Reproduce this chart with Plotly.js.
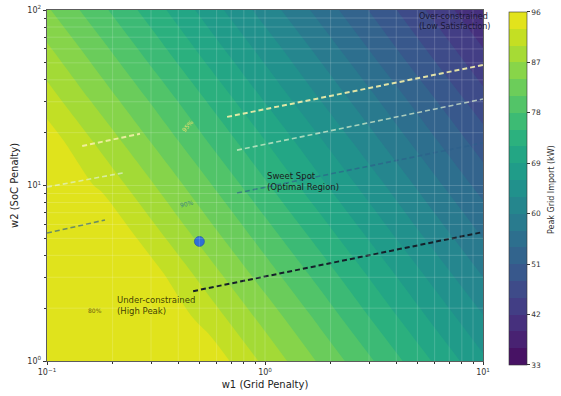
<!DOCTYPE html>
<html><head><meta charset="utf-8">
<script src="https://cdn.plot.ly/plotly-3.0.1.min.js"></script>
<style>html,body{margin:0;padding:0;background:#fff;} #chart{width:561px;height:396px;}</style>
</head><body><div id="chart"></div>
<script>
// grid of penalty weights (log spaced)
const w1Grid = [0.1, 0.178, 0.316, 0.562, 1, 1.78, 3.16, 5.62, 10];
const w2Grid = [1, 1.78, 3.16, 5.62, 10, 17.8, 31.6, 56.2, 100];
// peak grid import (kW): rows follow w2Grid, columns follow w1Grid
const peakImport = [
  [96,   96,   96,   95.0, 89.3, 83.6, 78.0, 72.3, 66.6],
  [96,   96,   96,   91.5, 85.9, 80.2, 74.5, 68.8, 63.2],
  [96,   96,   93.8, 88.1, 82.4, 76.8, 71.1, 65.4, 59.7],
  [96,   96,   90.3, 84.6, 79.0, 73.3, 67.6, 61.9, 56.3],
  [96,   92.5, 86.9, 81.2, 75.5, 69.8, 64.2, 58.5, 52.8],
  [94.8, 89.1, 83.4, 77.7, 72.1, 66.4, 60.7, 55.0, 49.4],
  [91.3, 85.6, 80.0, 74.3, 68.6, 62.9, 57.3, 51.6, 45.9],
  [87.9, 82.2, 76.5, 70.8, 65.2, 59.5, 53.8, 48.1, 42.5],
  [84.4, 78.7, 73.1, 67.4, 61.7, 56.0, 50.4, 44.7, 39.0]
];
const levelMin = 33, levelMax = 96, levelStep = 3;
const colorTicks = [33, 42, 51, 60, 69, 78, 87, 96];

// satisfaction contour lines (visible segments, null = gap)
const sat80W1 = [0.468, 10];
const sat80W2 = [2.5, 5.43];
const sat90W1 = [0.1, 0.1845, null, 0.744, 10];
const sat90W2 = [5.36, 6.36, null, 9.06, 17.5];
const sat93W1 = [0.1, 0.223, null, 0.744, 10];
const sat93W2 = [9.8, 11.8, null, 15.9, 31.1];
const sat95W1 = [0.145, 0.267, null, 0.670, 10];
const sat95W2 = [16.8, 19.7, null, 24.6, 48.6];

// chosen operating point
const optW1 = [0.5];
const optW2 = [4.8];

// contour labels
const labelText = ['80%', '90%', '95%'];
const labelW1 = [0.166, 0.439, 0.44];
const labelW2 = [1.93, 7.85, 22.1];

const xTickVals = [0.1, 1, 10];
const xTickText = ['10<sup>−1</sup>', '10<sup>0</sup>', '10<sup>1</sup>'];
const yTickVals = [1, 10, 100];
const yTickText = ['10<sup>0</sup>', '10<sup>1</sup>', '10<sup>2</sup>'];

const FONT = 'DejaVu Sans, sans-serif';
const dash = '5px,3px';

// viridis stops (same as Plotly's built-in 'Viridis')
const VIR = ['#440154','#48186a','#472d7b','#424086','#3b528b','#33638d','#2c728e','#26828e','#21918c',
             '#1fa088','#28ae80','#3fbc73','#5ec962','#84d44b','#addc30','#d8e219','#fde725'];
function hex2rgb(h){return [parseInt(h.substr(1,2),16),parseInt(h.substr(3,2),16),parseInt(h.substr(5,2),16)];}
function viridisAt(t){
  t = Math.max(0, Math.min(1, t));
  const p = t * (VIR.length - 1), i = Math.min(Math.floor(p), VIR.length - 2), f = p - i;
  const a = hex2rgb(VIR[i]), b = hex2rgb(VIR[i + 1]);
  return 'rgb(' + a.map((v, k) => Math.round(v + (b[k] - v) * f)).join(',') + ')';
}
// stepped scale for the colorbar, matching the contour band colours
const nBands = Math.round((levelMax - levelMin) / levelStep);
const steppedScale = [];
for (let i = 0; i < nBands; i++) {
  const c = viridisAt((i + 1) / (nBands + 1));
  steppedScale.push([i / nBands, c], [(i + 1) / nBands, c]);
}

const traces = [
  {
    type: 'contour', x: w1Grid, y: w2Grid, z: peakImport,
    colorscale: 'Viridis', showscale: false,
    autocontour: false,
    contours: {start: levelMin, end: levelMax, size: levelStep, coloring: 'fill', showlines: false},
    line: {width: 0},
    hoverinfo: 'skip'
  },
  {type: 'scatter', mode: 'lines', x: sat80W1, y: sat80W2, connectgaps: false,
   line: {color: '#15202a', width: 2, dash: dash}, hoverinfo: 'skip', showlegend: false},
  {type: 'scatter', mode: 'lines', x: sat90W1, y: sat90W2, connectgaps: false, opacity: 0.65,
   line: {color: '#2c5f8a', width: 1.6, dash: dash}, hoverinfo: 'skip', showlegend: false},
  {type: 'scatter', mode: 'lines', x: sat93W1, y: sat93W2, connectgaps: false, opacity: 0.7,
   line: {color: '#dff2d0', width: 1.6, dash: dash}, hoverinfo: 'skip', showlegend: false},
  {type: 'scatter', mode: 'lines', x: sat95W1, y: sat95W2, connectgaps: false, opacity: 0.9,
   line: {color: '#f4f0a8', width: 2, dash: dash}, hoverinfo: 'skip', showlegend: false},
  {type: 'scatter', mode: 'markers', x: optW1, y: optW2,
   marker: {size: 10, color: '#2f6fd6', line: {color: '#1f4fa0', width: 0.6}},
   hoverinfo: 'skip', showlegend: false},
  // colour bar carrier (no drawn points)
  {type: 'scatter', mode: 'markers', x: [null], y: [null], hoverinfo: 'skip', showlegend: false,
   marker: {color: [levelMin], cmin: levelMin, cmax: levelMax, colorscale: steppedScale, showscale: true,
     colorbar: {
       x: 1.0596, xanchor: 'left', xpad: 0,
       y: 0.4915, yanchor: 'middle', len: 1.006, ypad: 0,
       thickness: 18, outlinewidth: 0.6, outlinecolor: '#333',
       tickmode: 'array', tickvals: colorTicks,
       ticks: 'outside', ticklen: 3, tickcolor: '#333',
       tickfont: {family: FONT, size: 7.5, color: '#333'}
     }}}
];

// faint log grid (major + minor) drawn over the filled contours
const shapes = [];
for (let d = -1; d <= 0; d++) {
  for (let k = 1; k <= 9; k++) {
    const v = k * Math.pow(10, d);
    const f = (Math.log10(v) + 1) / 2;
    if (f > 0.001) shapes.push({type: 'line', xref: 'paper', yref: 'paper', x0: f, x1: f, y0: 0, y1: 1,
      layer: 'above', line: {color: 'rgba(255,255,255,0.22)', width: 0.8}});
  }
}
for (let d = 0; d <= 1; d++) {
  for (let k = 1; k <= 9; k++) {
    const v = k * Math.pow(10, d);
    const f = Math.log10(v) / 2;
    if (f > 0.001) shapes.push({type: 'line', xref: 'paper', yref: 'paper', x0: 0, x1: 1, y0: f, y1: f,
      layer: 'above', line: {color: 'rgba(255,255,255,0.22)', width: 0.8}});
  }
}

const minorVals = [];
for (let d = -1; d <= 1; d++) for (let k = 2; k <= 9; k++) minorVals.push(k * Math.pow(10, d));

const annotations = [
  {xref: 'x', yref: 'y', x: Math.log10(1.0), y: Math.log10(10.6), xanchor: 'left', yanchor: 'middle', align: 'left',
   text: 'Sweet Spot<br>(Optimal Region)', showarrow: false, font: {family: FONT, size: 8.5, color: '#1a1a1a'}},
  {xref: 'x', yref: 'y', x: Math.log10(0.205), y: Math.log10(2.08), xanchor: 'left', yanchor: 'middle', align: 'left',
   text: 'Under-constrained<br>(High Peak)', showarrow: false, font: {family: FONT, size: 8.5, color: 'rgba(35,28,0,0.85)'}},
  {xref: 'x', yref: 'y', x: Math.log10(5.0), y: Math.log10(85.5), xanchor: 'left', yanchor: 'middle', align: 'left',
   text: 'Over-constrained<br>(Low Satisfaction)', showarrow: false, font: {family: FONT, size: 8, color: '#1a1835'}},
  {xref: 'x', yref: 'y', x: Math.log10(labelW1[0]), y: Math.log10(labelW2[0]), showarrow: false,
   text: labelText[0], font: {family: FONT, size: 6, color: '#6e5e10'}},
  {xref: 'x', yref: 'y', x: Math.log10(labelW1[1]), y: Math.log10(labelW2[1]), showarrow: false, textangle: -12,
   text: labelText[1], font: {family: FONT, size: 6, color: '#3f8a7a'}},
  {xref: 'x', yref: 'y', x: Math.log10(labelW1[2]), y: Math.log10(labelW2[2]), showarrow: false, textangle: -50,
   text: labelText[2], font: {family: FONT, size: 6, color: '#e8e070'}},
  {xref: 'paper', yref: 'paper', x: 1.156, y: 0.487, xanchor: 'center', yanchor: 'middle', textangle: -90,
   text: 'Peak Grid Import (kW)', showarrow: false, font: {family: FONT, size: 8, color: '#333'}}
];

const axisCommon = {
  type: 'log', showgrid: false, zeroline: false,
  showline: true, mirror: true, linecolor: '#333', linewidth: 0.8,
  ticks: 'outside', ticklen: 3.5, tickcolor: '#333', tickmode: 'array',
  tickfont: {family: FONT, size: 8, color: '#333'},
  minor: {tickmode: 'array', tickvals: minorVals, ticks: 'outside', ticklen: 2, tickcolor: '#333', showgrid: false}
};

const layout = {
  width: 561, height: 396,
  margin: {l: 47, r: 78, t: 10, b: 35},
  paper_bgcolor: '#fff', plot_bgcolor: '#fff',
  showlegend: false,
  xaxis: Object.assign({}, axisCommon, {
    range: [-1, 1], tickvals: xTickVals, ticktext: xTickText,
    title: {text: 'w1 (Grid Penalty)', font: {family: FONT, size: 10, color: '#222'}, standoff: 4}
  }),
  yaxis: Object.assign({}, axisCommon, {
    range: [0, 2], tickvals: yTickVals, ticktext: yTickText,
    title: {text: 'w2 (SoC Penalty)', font: {family: FONT, size: 10, color: '#222'}, standoff: 6}
  }),
  shapes: shapes,
  annotations: annotations
};

Plotly.newPlot('chart', traces, layout, {displayModeBar: false, staticPlot: true});
</script>
</body></html>
